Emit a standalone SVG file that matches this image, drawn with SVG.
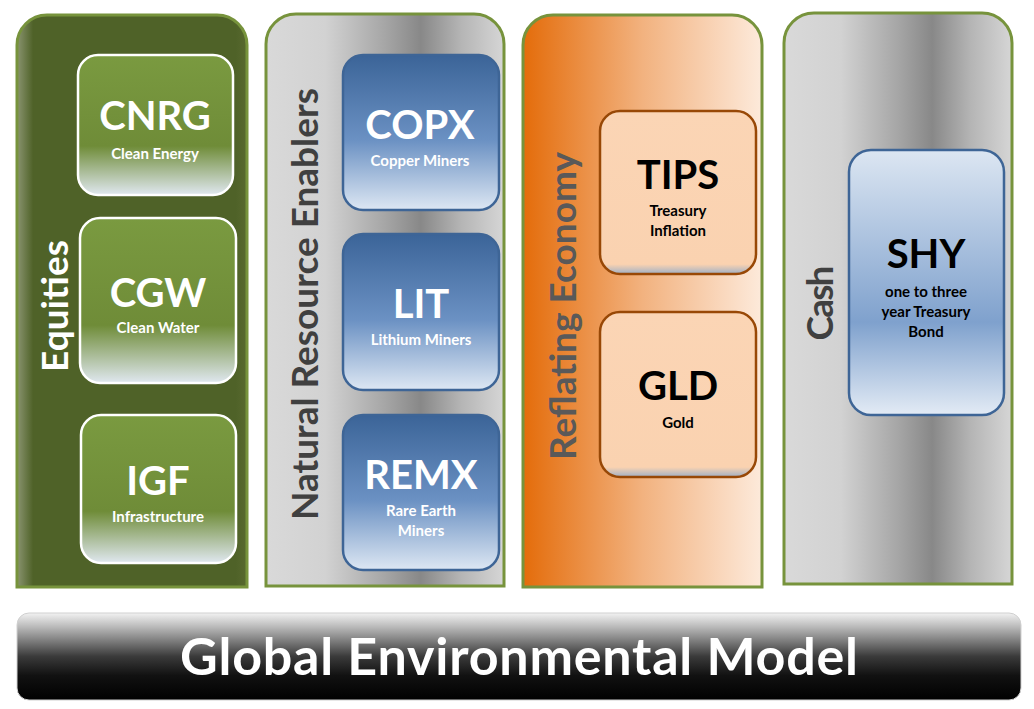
<svg xmlns="http://www.w3.org/2000/svg" width="1034" height="709" viewBox="0 0 1034 709">
<defs>
<linearGradient id="gEq" x1="0" y1="0" x2="1" y2="0"><stop offset="0" stop-color="#8a9470"/><stop offset="0.07" stop-color="#4f6228"/><stop offset="0.95" stop-color="#4f6228"/><stop offset="1" stop-color="#58692f"/></linearGradient>
<linearGradient id="gGray" x1="0" y1="0" x2="1" y2="0"><stop offset="0" stop-color="#d9d9d9"/><stop offset="0.25" stop-color="#d2d2d2"/><stop offset="0.5" stop-color="#a6a6a6"/><stop offset="0.65" stop-color="#888888"/><stop offset="0.82" stop-color="#b5b5b5"/><stop offset="1" stop-color="#d6d6d6"/></linearGradient>
<linearGradient id="gOr" x1="0" y1="0" x2="1" y2="0"><stop offset="0" stop-color="#e46c0a"/><stop offset="0.5" stop-color="#f2b27f"/><stop offset="1" stop-color="#fdeadb"/></linearGradient>
<linearGradient id="gGreen" x1="0" y1="0" x2="0" y2="1"><stop offset="0" stop-color="#7a9a40"/><stop offset="0.65" stop-color="#6f8c38"/><stop offset="1" stop-color="#e0e8f0"/></linearGradient>
<linearGradient id="gBlue" x1="0" y1="0" x2="0" y2="1"><stop offset="0" stop-color="#3b6498"/><stop offset="0.55" stop-color="#6b91c3"/><stop offset="1" stop-color="#dde7f3"/></linearGradient>
<linearGradient id="gPeach" x1="0" y1="0" x2="0" y2="1"><stop offset="0" stop-color="#fbd5b5"/><stop offset="0.94" stop-color="#fad2b0"/><stop offset="1" stop-color="#9fb0c6"/></linearGradient>
<linearGradient id="gShy" x1="0" y1="0" x2="0" y2="1"><stop offset="0" stop-color="#dce6f2"/><stop offset="0.65" stop-color="#7fa1cd"/><stop offset="1" stop-color="#e3ebf5"/></linearGradient>
<linearGradient id="gBar" x1="0" y1="0" x2="0" y2="1"><stop offset="0" stop-color="#f2f2f2"/><stop offset="0.15" stop-color="#bdbdbd"/><stop offset="0.5" stop-color="#3a3a3a"/><stop offset="0.72" stop-color="#111111"/><stop offset="1" stop-color="#000000"/></linearGradient>
<style>
.col{stroke:#77933c;stroke-width:3}
.bx{stroke-width:2.5}
.code{font-family:Lato,"Open Sans",sans-serif;font-weight:bold;font-size:40px;text-anchor:middle}
.sub{font-family:Lato,"Open Sans",sans-serif;font-weight:bold;font-size:15px;text-anchor:middle}
.lab{font-family:Lato,"Open Sans",sans-serif;font-weight:bold;font-size:37px;text-anchor:middle}
.title{font-family:Lato,"Open Sans",sans-serif;font-weight:bold;font-size:52px;text-anchor:middle;fill:#ffffff}
.w{fill:#ffffff}
.k{fill:#000000}
</style>
</defs>
<g id="col-equities">
<path class="col" fill="url(#gEq)" d="M17 587 V45 A30 30 0 0 1 47 15 H217 A30 30 0 0 1 247 45 V587 Z"/>
<text class="lab w" transform="translate(68,306) rotate(-90)" textLength="132">Equities</text>
</g>
<g id="col-natural">
<path class="col" fill="url(#gGray)" d="M266 586 V44 A30 30 0 0 1 296 14 H474 A30 30 0 0 1 504 44 V586 Z"/>
<text class="lab" fill="#404040" transform="translate(318,304) rotate(-90)" textLength="432">Natural Resource Enablers</text>
</g>
<g id="col-reflating">
<path class="col" fill="url(#gOr)" d="M523 587 V45 A30 30 0 0 1 553 15 H732 A30 30 0 0 1 762 45 V587 Z"/>
<text class="lab" fill="#595959" transform="translate(576,306) rotate(-90)" textLength="308">Reflating Economy</text>
</g>
<g id="col-cash">
<path class="col" fill="url(#gGray)" d="M784 584 V43 A30 30 0 0 1 814 13 H982 A30 30 0 0 1 1012 43 V584 Z"/>
<text class="lab" fill="#404040" transform="translate(833,303) rotate(-90)" textLength="75">Cash</text>
</g>
<g id="node-cnrg">
<rect class="bx" x="78" y="55" width="155" height="140" rx="20" fill="url(#gGreen)" stroke="#ffffff"/>
<text class="code w" x="155" y="130">CNRG</text>
<text class="sub w" x="155" y="159">Clean Energy</text>
</g>
<g id="node-cgw">
<rect class="bx" x="80" y="218" width="156" height="165" rx="20" fill="url(#gGreen)" stroke="#ffffff"/>
<text class="code w" x="158" y="307">CGW</text>
<text class="sub w" x="158" y="333">Clean Water</text>
</g>
<g id="node-igf">
<rect class="bx" x="81" y="415" width="155" height="148" rx="20" fill="url(#gGreen)" stroke="#ffffff"/>
<text class="code w" x="158" y="495">IGF</text>
<text class="sub w" x="158" y="522">Infrastructure</text>
</g>
<g id="node-copx">
<rect class="bx" x="343" y="55" width="156" height="155" rx="20" fill="url(#gBlue)" stroke="#3e6596"/>
<text class="code w" x="420" y="139">COPX</text>
<text class="sub w" x="420" y="166">Copper Miners</text>
</g>
<g id="node-lit">
<rect class="bx" x="343" y="234" width="156" height="156" rx="20" fill="url(#gBlue)" stroke="#3e6596"/>
<text class="code w" x="421" y="318">LIT</text>
<text class="sub w" x="421" y="345">Lithium Miners</text>
</g>
<g id="node-remx">
<rect class="bx" x="343" y="415" width="156" height="155" rx="20" fill="url(#gBlue)" stroke="#3e6596"/>
<text class="code w" x="421" y="489">REMX</text>
<text class="sub w" x="421" y="516">Rare Earth</text>
<text class="sub w" x="421" y="536">Miners</text>
</g>
<g id="node-tips">
<rect class="bx" x="600" y="111" width="156" height="163" rx="20" fill="url(#gPeach)" stroke="#984806"/>
<text class="code k" x="678" y="189">TIPS</text>
<text class="sub k" x="678" y="216">Treasury</text>
<text class="sub k" x="678" y="236">Inflation</text>
</g>
<g id="node-gld">
<rect class="bx" x="600" y="312" width="156" height="165" rx="20" fill="url(#gPeach)" stroke="#984806"/>
<text class="code k" x="678" y="400">GLD</text>
<text class="sub k" x="678" y="428">Gold</text>
</g>
<g id="node-shy">
<rect class="bx" x="849" y="150" width="155" height="265" rx="22" fill="url(#gShy)" stroke="#3e6596"/>
<text class="code k" x="926" y="268">SHY</text>
<text class="sub k" x="926" y="297">one to three</text>
<text class="sub k" x="926" y="317">year Treasury</text>
<text class="sub k" x="926" y="337">Bond</text>
</g>
<g id="node-gem">
<rect x="17" y="613" width="1004" height="87" rx="12" fill="url(#gBar)" stroke="#d0d0d0" stroke-width="1"/>
<text class="title" x="519" y="675" textLength="678">Global Environmental Model</text>
</g>
<g id="connectors"/>
</svg>
